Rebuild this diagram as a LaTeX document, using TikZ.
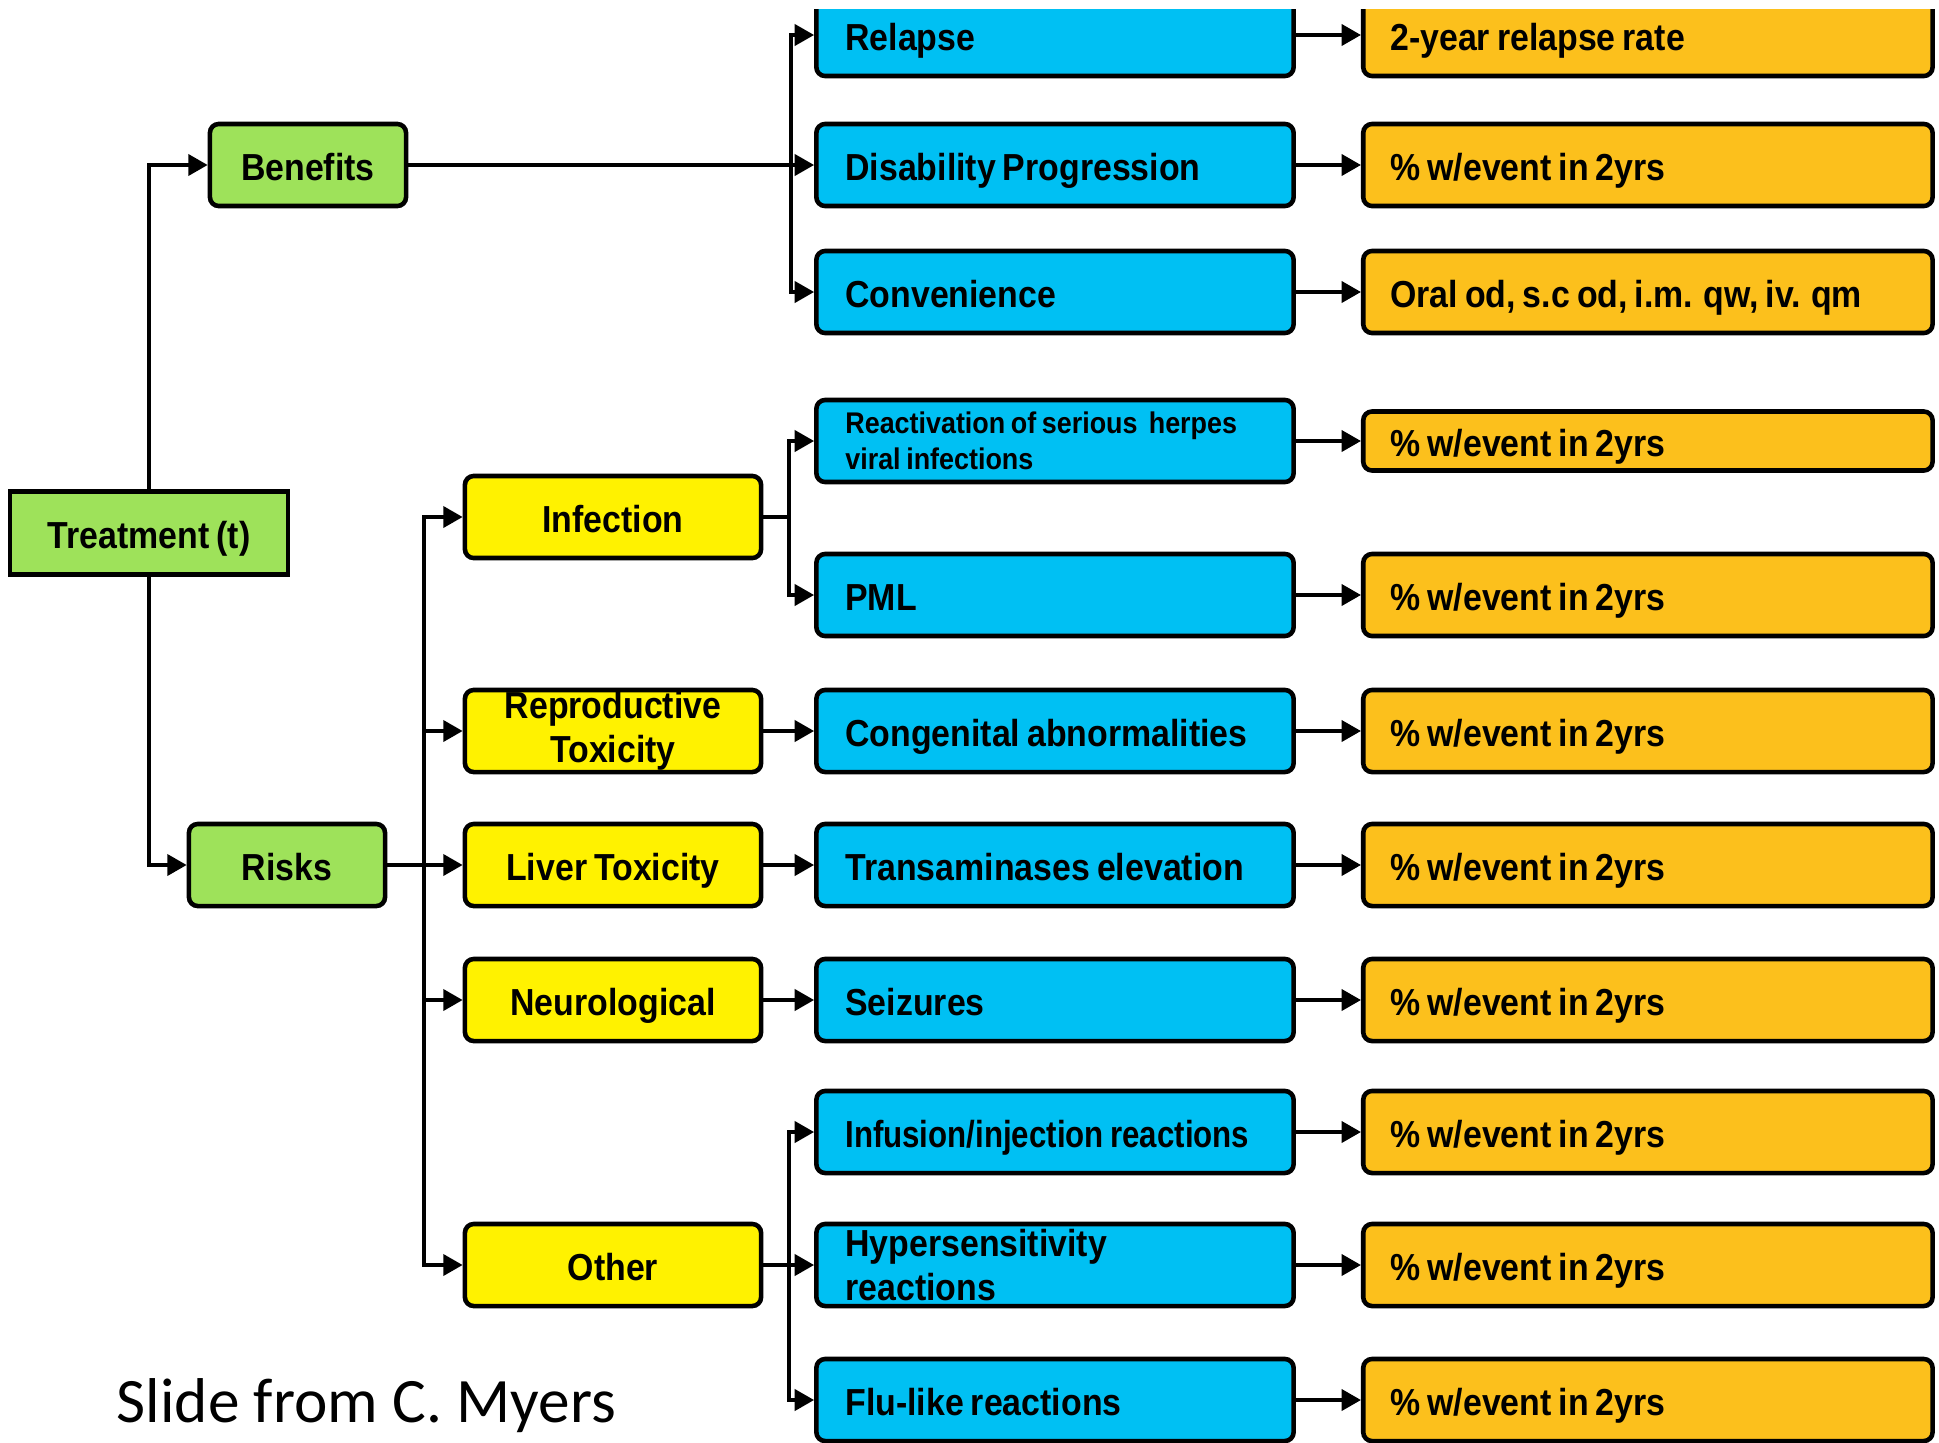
\documentclass[tikz,border=0pt]{standalone}
\usepackage{fontspec}
\setmainfont{Liberation Sans}[FakeStretch=0.9, WordSpace={0.75}]
\newfontfamily\slidefont{Carlito}
\usetikzlibrary{arrows.meta}
\usetikzlibrary{positioning}

\definecolor{leafgreen}{RGB}{158,226,90}
\definecolor{skyblue}{RGB}{0,192,243}
\definecolor{gold}{RGB}{252,192,28}

\tikzset{
  box/.style={draw=black, line width=1.3pt, rounded corners=2.5pt,
    font=\fontsize{10.7}{12.4}\selectfont\bfseries,
    minimum height=0.82cm, inner ysep=0pt, text height=0.86em, text depth=0pt},
  twolines/.style={text height=, text depth=},
  outcome/.style={box, fill=leafgreen, minimum width=1.96cm},
  category/.style={box, fill=yellow, minimum width=2.96cm, align=flush center},
  event/.style={box, fill=skyblue, text width=4.19cm, inner xsep=0.29cm, align=flush left},
  metric/.style={box, fill=gold, text width=5.15cm, inner xsep=0.27cm, align=flush left},
}

\begin{document}
\begin{tikzpicture}[x=0.01cm, y=-0.01cm, line width=1pt,
    >={Triangle[length=5.5pt,width=6pt]}]

    \useasboundingbox (0,0) rectangle (1939,1442);
    \clip (0,9) rectangle (1939,1442);

    % Nodes

    \node[outcome, rounded corners=0pt, minimum width=2.78cm, minimum height=0.83cm]
                                  (treat)  at (149,533)  {Treatment (t)};
    \node[outcome]                (bene)   at (308,165)  {Benefits};
    \node[outcome]                (risk)   at (287,865)  {Risks};

    \node[category]               (inf)    at (613,517)  {Infection};
    \node[category, twolines]     (repro)  at (613,731)  {Reproductive\\Toxicity};
    \node[category]               (liver)  at (613,865)  {Liver Toxicity};
    \node[category]               (neuro)  at (613,1000) {Neurological};
    \node[category]               (other)  at (613,1265) {Other};

    \node[event]                  (relapse) at (1055,35)   {Relapse};
    \node[event]                  (disab)   at (1055,165)  {Disability Progression};
    \node[event]                  (conv)    at (1055,292)  {Convenience};
    \node[event, twolines, font=\fontsize{8.5}{10.2}\selectfont\bfseries]
                                  (herpes)  at (1055,441)  {Reactivation of serious\ \ herpes\\viral infections};
    \node[event]                  (pml)     at (1055,595)  {PML};
    \node[event]                  (congen)  at (1055,731)  {Congenital abnormalities};
    \node[event]                  (trans)   at (1055,865)  {Transaminases elevation};
    \node[event]                  (seiz)    at (1055,1000) {Seizures};
    \node[event]                  (infus)   at (1055,1132) {\addfontfeatures{FakeStretch=0.83}Infusion/injection reactions};
    \node[event, twolines]        (hyper)   at (1055,1265) {Hypersensitivity\\reactions};
    \node[event]                  (flu)     at (1055,1400) {Flu-like reactions};

    \node[metric, right=0.65cm of relapse] (relapse-m) {2-year relapse rate};
    \node[metric, right=0.65cm of disab]   (disab-m)   {\% w/event in 2yrs};
    \node[metric, right=0.65cm of conv]    (conv-m)    {Oral od, s.c od, i.m. qw, iv. qm};
    \node[metric, right=0.65cm of herpes, minimum height=0.59cm] (herpes-m) {\% w/event in 2yrs};
    \node[metric, right=0.65cm of pml]     (pml-m)     {\% w/event in 2yrs};
    \node[metric, right=0.65cm of congen]  (congen-m)  {\% w/event in 2yrs};
    \node[metric, right=0.65cm of trans]   (trans-m)   {\% w/event in 2yrs};
    \node[metric, right=0.65cm of seiz]    (seiz-m)    {\% w/event in 2yrs};
    \node[metric, right=0.65cm of infus]   (infus-m)   {\% w/event in 2yrs};
    \node[metric, right=0.65cm of hyper]   (hyper-m)   {\% w/event in 2yrs};
    \node[metric, right=0.65cm of flu]     (flu-m)     {\% w/event in 2yrs};

    \node[font=\slidefont\fontsize{18}{20}\selectfont, anchor=base west, inner sep=0pt]
                                  (credit) at (115,1422) {Slide from C. Myers};

    % Edges

    \draw[->] (treat.north) |- (bene.west);
    \draw[->] (treat.south) |- (risk.west);

    \coordinate (bj) at (791,165);
    \draw (bene.east) -- (bj);
    \foreach \n in {relapse,disab,conv}
        \draw[->] (bj) |- (\n.west);

    \coordinate (rj) at (424,865);
    \draw (risk.east) -- (rj);
    \foreach \n in {inf,repro,liver,neuro,other}
        \draw[->] (rj) |- (\n.west);

    \coordinate (ij) at (789,517);
    \draw (inf.east) -- (ij);
    \foreach \n in {herpes,pml}
        \draw[->] (ij) |- (\n.west);

    \coordinate (oj) at (789,1265);
    \draw (other.east) -- (oj);
    \foreach \n in {infus,hyper,flu}
        \draw[->] (oj) |- (\n.west);

    \draw[->] (repro) -- (congen);
    \draw[->] (liver) -- (trans);
    \draw[->] (neuro) -- (seiz);

    \foreach \n in {relapse,disab,conv,herpes,pml,congen,trans,seiz,infus,hyper,flu}
        \draw[->] (\n) -- (\n-m);

\end{tikzpicture}
\end{document}
